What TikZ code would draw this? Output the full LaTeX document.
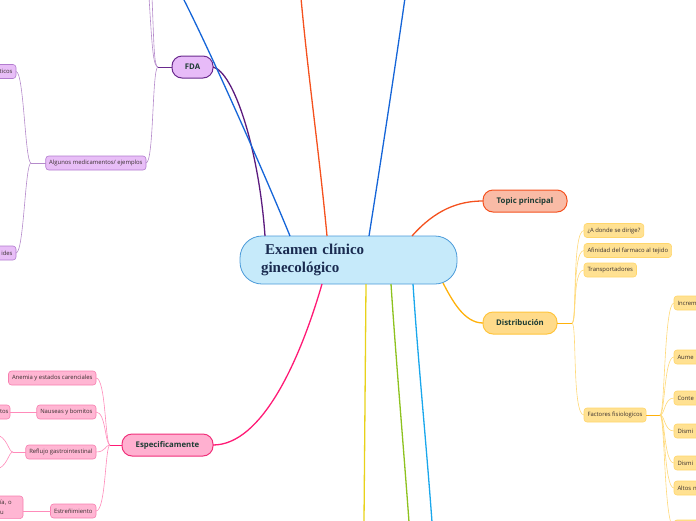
\documentclass[tikz,border=0pt]{standalone}
\usepackage{fontspec}
\setmainfont{Open Sans}
\newfontfamily\titlefont{Liberation Serif}
\usetikzlibrary{calc}
\definecolor{ctrFill}{HTML}{C6EAFA}
\definecolor{ctrDraw}{HTML}{4A9AD9}
\definecolor{ctrText}{HTML}{1A2B50}
\definecolor{darkTxt}{HTML}{1D3C34}
\definecolor{leafTxt}{HTML}{3A3030}
\definecolor{purpleMain}{HTML}{5B1A7E}
\definecolor{blueMain}{HTML}{1565D8}
\definecolor{orangeMain}{HTML}{F4511E}
\definecolor{topicFill}{HTML}{F9BBA6}
\definecolor{yellowMain}{HTML}{FFB10A}
\definecolor{distFill}{HTML}{FFDB8A}
\definecolor{distDraw}{HTML}{FFC53D}
\definecolor{ylFill}{HTML}{FFE192}
\definecolor{ylDraw}{HTML}{FFD66B}
\definecolor{ylLine}{HTML}{FFD978}
\definecolor{pinkMain}{HTML}{FF1A75}
\definecolor{espFill}{HTML}{FFB0D0}
\definecolor{espDraw}{HTML}{F0307A}
\definecolor{pkFill}{HTML}{FFB6D3}
\definecolor{pkDraw}{HTML}{F77FB0}
\definecolor{pkLine}{HTML}{FF8BBA}
\definecolor{fdaFill}{HTML}{E7BBF8}
\definecolor{fdaDraw}{HTML}{6A2A8E}
\definecolor{puFill}{HTML}{E8BEF7}
\definecolor{puDraw}{HTML}{B27CCF}
\definecolor{puLine}{HTML}{B58BCB}
\definecolor{yelDown}{HTML}{E8D21A}
\definecolor{greenDown}{HTML}{8DC21F}
\definecolor{lblueDown}{HTML}{1AA7EC}
\begin{document}
\begin{tikzpicture}[x=1pt,y=-1pt,
  every node/.style={inner sep=0pt, outer sep=0pt},
  midbox/.style={draw, line width=1pt, rounded corners=10pt, minimum height=22pt,
    font=\fontsize{7.8}{9}\selectfont\bfseries, text=darkTxt},
  leaf/.style={draw, line width=0.6pt, rounded corners=3pt, minimum height=14pt,
    inner xsep=3.5pt, font=\fontsize{5.9}{7}\selectfont, text=leafTxt},
  yleaf/.style={leaf, fill=ylFill, draw=ylDraw},
  pleaf/.style={leaf, fill=pkFill, draw=pkDraw},
  uleaf/.style={leaf, fill=puFill, draw=puDraw},
  mainline/.style={line width=1.3pt},
  subline/.style={line width=0.6pt},
]
\useasboundingbox (0,0) rectangle (696,520);
\clip (0,0) rectangle (696,520);

% central node
\node[draw=ctrDraw, fill=ctrFill, line width=0.8pt, rounded corners=22pt,
  minimum width=217pt, minimum height=48pt, text width=175pt, align=left,
  font=\titlefont\bfseries\fontsize{15}{18}\selectfont, text=ctrText]
  (c) at (348.5,260) {\hspace*{4pt}Examen clínico\\ginecológico};

% first level nodes
\node[midbox, fill=topicFill, draw=orangeMain, minimum width=84pt] (topic) at (525,201) {Topic principal};
\node[midbox, fill=distFill, draw=distDraw, minimum width=74pt] (dist) at (520,323) {Distribución};
\node[midbox, fill=fdaFill, draw=fdaDraw, minimum width=41pt] (fda) at (192.5,67) {FDA};
\node[midbox, fill=espFill, draw=espDraw, minimum width=91pt] (esp) at (167.5,445) {Especificamente};

% off-canvas ends of main branches
\coordinate (tl) at (183,-2);
\coordinate (tm) at (301,-2);
\coordinate (tr) at (405,-2);
\coordinate (by) at (364,522);
\coordinate (bg) at (409,522);
\coordinate (bb) at (432,522);

% main connectors
\draw[mainline, purpleMain] ($(c.north west)+(25,0)$) .. controls (259,150) and (234,72) .. (fda.east);
\draw[mainline, blueMain] ($(c.north west)+(50,0)$) .. controls (265,175) and (212,55) .. (tl);
\draw[mainline, orangeMain] ($(c.north west)+(87,0)$) .. controls (320,160) and (308,75) .. (tm);
\draw[mainline, blueMain] ($(c.north west)+(129,0)$) .. controls (381,160) and (394,75) .. (tr);
\draw[mainline, orangeMain] ($(c.north west)+(172,0)$) .. controls (435,210) and (458,201) .. (topic.west);
\draw[mainline, yellowMain] ($(c.south east)+(-14,-1)$) .. controls (452,300) and (464,323) .. (dist.west);
\draw[mainline, pinkMain] ($(c.south west)+(82,0)$) .. controls (300,360) and (262,445) .. (esp.east);
\draw[mainline, yelDown] ($(c.south west)+(126,0)$) -- (by);
\draw[mainline, greenDown] ($(c.south west)+(151,0)$) .. controls (396,360) and (403,440) .. (bg);
\draw[mainline, lblueDown] ($(c.south west)+(173,0)$) .. controls (418,360) and (426,440) .. (bb);

% Distribución children
\node[yleaf, anchor=west] (y1) at (584,230.5) {¿A donde se dirige?};
\node[yleaf, anchor=west] (y2) at (584,250.5) {Afinidad del farmaco al tejido};
\node[yleaf, anchor=west] (y3) at (584,270) {Transportadores};
\node[yleaf, anchor=west] (y4) at (584,415) {Factores fisiologicos};
\coordinate (dj) at (572,323);
\draw[subline, yellowMain, line width=1pt] (dist.east) -- (dj);
\foreach \n in {y1,y2,y3,y4}{
  \draw[subline, ylLine] (dj) .. controls ($(dj)+(5,0)$) and ($(\n.west)+(-12,0)$) .. (\n.west);
}

% Factores fisiologicos children (cut at right edge)
\tikzset{fcut/.style={yleaf, anchor=west, text width=40pt, align=left}}
\node[fcut] (f1) at (674,303) {Increm};
\node[fcut] (f2) at (674,357) {Aume};
\node[fcut] (f3) at (674,398) {Conte};
\node[fcut] (f4) at (674,431) {Dismi};
\node[fcut] (f5) at (674,463) {Dismi};
\node[fcut] (f6) at (674,488) {Altos n};
\node[fcut, text width=40pt] (f7) at (674,527) {\strut};
\coordinate (fj) at (660,415);
\draw[subline, yellowMain, line width=1pt] (y4.east) -- (fj);
\foreach \n in {f1,f2,f3,f4,f5,f6,f7}{
  \draw[subline, ylLine] (fj) .. controls ($(fj)+(5,0)$) and ($(\n.west)+(-10,0)$) .. (\n.west);
}

% FDA children
\node[uleaf, anchor=east] (alg) at (146,163) {Algunos medicamentos/ ejemplos};
\coordinate (uj) at (158,67);
\coordinate (ut1) at (149,-3);
\coordinate (ut2) at (152,-3);
\draw[subline, fdaDraw, line width=1pt] (fda.west) -- (uj);
\draw[subline, puLine] (uj) .. controls ($(uj)+(-5,0)$) and (152,45) .. (ut1);
\draw[subline, puLine] (uj) .. controls ($(uj)+(-4,0)$) and (154,45) .. (ut2);
\draw[subline, puLine] (uj) .. controls ($(uj)+(-6,0)$) and ($(alg.east)+(8,0)$) .. (alg.east);

\node[uleaf, anchor=east, text width=40pt, align=right] (u1) at (16,71.5) {ticos};
\node[uleaf, anchor=east, text width=40pt, align=right] (u2) at (16,253) {ides};
\coordinate (aj) at (31,163);
\draw[subline, puLine] (alg.west) -- (aj);
\draw[subline, puLine] (aj) .. controls ($(aj)+(-6,0)$) and ($(u1.east)+(8,0)$) .. (u1.east);
\draw[subline, puLine] (aj) .. controls ($(aj)+(-6,0)$) and ($(u2.east)+(8,0)$) .. (u2.east);

% Especificamente children
\node[pleaf, anchor=east] (p1) at (96,378) {Anemia y estados carenciales};
\node[pleaf, anchor=east] (p2) at (96,412) {Nauseas y bomitos};
\node[pleaf, anchor=east] (p3) at (96,452) {Reflujo gastrointestinal};
\node[pleaf, anchor=east] (p4) at (96,511) {Estreñimiento};
\coordinate (ej) at (110,445);
\draw[subline, pinkMain, line width=1pt] (esp.west) -- (ej);
\foreach \n in {p1,p2,p3,p4}{
  \draw[subline, pkLine] (ej) .. controls ($(ej)+(-5,0)$) and ($(\n.east)+(10,0)$) .. (\n.east);
}

% grandchildren of Especificamente (cut at left edge)
\node[pleaf, anchor=east, text width=30pt, align=right, inner xsep=1.5pt] (q1) at (10,412) {tos};
\draw[subline, pkLine] (p2.west) -- (q1.east);
\node[pleaf, anchor=north east, text width=20pt, align=left, inner xsep=3pt, inner ysep=4pt,
  minimum height=0pt, font=\fontsize{5.9}{10}\selectfont] (q2) at (23,496) {ía, o\\u};
\draw[subline, pkLine] (p4.west) -- (q2.east |- p4.west);
\coordinate (rj) at (13,452);
\coordinate (r1) at (-6,434);
\coordinate (r2) at (-6,470);
\draw[subline, pkLine] (p3.west) -- (rj);
\draw[subline, pkLine] (rj) .. controls (8,452) and (8,436) .. (r1);
\draw[subline, pkLine] (rj) .. controls (8,452) and (8,468) .. (r2);
\end{tikzpicture}
\end{document}
